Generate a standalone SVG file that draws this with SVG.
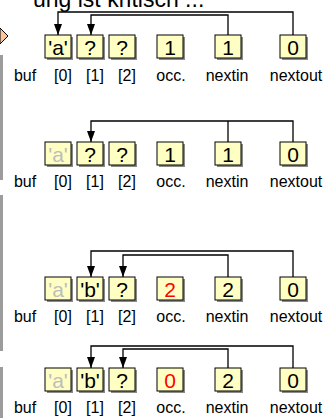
<svg xmlns="http://www.w3.org/2000/svg" width="328" height="418" viewBox="0 0 328 418">
<style>
.bg{fill:#ffffff}
.sh{fill:#8a8a8a}
.bx{fill:#ffffc4;stroke:#000;stroke-width:1}
.fd .bx{stroke:#c4c4c4}
.fd .sh{fill:#d6d6d6}
.v{font-family:"Liberation Sans",Arial,sans-serif;font-size:21px;text-anchor:middle;fill:#000}
.fd .v{fill:#bdbdbd}
.red{fill:#ff0000}
.lb{font-family:"Liberation Sans",Arial,sans-serif;font-size:16px;text-anchor:middle;fill:#000}
.t{font-family:"Liberation Sans",Arial,sans-serif;font-size:23px;fill:#000}
.c{fill:none;stroke:#000;stroke-width:1.3;marker-end:url(#ah)}
.cn{fill:none;stroke:#000;stroke-width:1.3}
.bar{fill:#9c9c9c}
</style>
<defs>
<marker id="ah" viewBox="0 0 11 8" refX="11" refY="4" markerWidth="11" markerHeight="8" markerUnits="userSpaceOnUse" orient="auto">
<path d="M0,0 L11,4 L0,8 z" fill="#000"/>
</marker>
<g id="box">
<rect class="sh" x="2" y="2" width="26" height="23"/>
<rect class="bx" x="0" y="0" width="26" height="23"/>
</g>
</defs>
<rect class="bg" x="0" y="0" width="328" height="418"/>
<text class="t" x="33" y="7">ung ist kritisch ...</text>
<g id="pointer">
<path d="M0,28 L8,36 L0,44 Z" fill="#fbc79a" stroke="#000" stroke-width="1"/>
</g>
<g id="sidebars">
<rect class="bar" x="0" y="55" width="3" height="125"/>
<rect class="bar" x="0" y="195" width="3" height="156"/>
<rect class="bar" x="0" y="367" width="3" height="51"/>
</g>
<g id="connectors">
<path class="c" d="M293,35 V12 H58 V35"/>
<path class="c" d="M228,35 V15 H91 V35"/>
<path class="c" d="M293,142 V121 H91 V142"/>
<path class="cn" d="M228,142 V121"/>
<path class="c" d="M293,277 V251 H91 V277"/>
<path class="c" d="M228,277 V255 H123 V277"/>
<path class="c" d="M293,368 V346 H91 V368"/>
<path class="c" d="M228,368 V349 H123 V368"/>
</g>
<!-- Panel 1 -->
<g id="p1">
<g id="p1-b0"><use href="#box" x="45" y="35"/><text class="v" x="58" y="55">'a'</text></g>
<g id="p1-b1"><use href="#box" x="77" y="35"/><text class="v" x="90" y="55">?</text></g>
<g id="p1-b2"><use href="#box" x="109" y="35"/><text class="v" x="122" y="55">?</text></g>
<g id="p1-occ"><use href="#box" x="157" y="35"/><text class="v" x="170" y="55">1</text></g>
<g id="p1-nextin"><use href="#box" x="215" y="35"/><text class="v" x="228" y="55">1</text></g>
<g id="p1-nextout"><use href="#box" x="280" y="35"/><text class="v" x="293" y="55">0</text></g>
<g id="p1-labels">
<text class="lb" x="25" y="81">buf</text><text class="lb" x="63" y="81">[0]</text><text class="lb" x="95" y="81">[1]</text><text class="lb" x="127" y="81">[2]</text><text class="lb" x="171" y="81">occ.</text><text class="lb" x="227" y="81">nextin</text><text class="lb" x="296" y="81">nextout</text>
</g>
</g>
<!-- Panel 2 -->
<g id="p2">
<g id="p2-b0" class="fd"><use href="#box" x="45" y="142"/><text class="v" x="58" y="162">'a'</text></g>
<g id="p2-b1"><use href="#box" x="77" y="142"/><text class="v" x="90" y="162">?</text></g>
<g id="p2-b2"><use href="#box" x="109" y="142"/><text class="v" x="122" y="162">?</text></g>
<g id="p2-occ"><use href="#box" x="157" y="142"/><text class="v" x="170" y="162">1</text></g>
<g id="p2-nextin"><use href="#box" x="215" y="142"/><text class="v" x="228" y="162">1</text></g>
<g id="p2-nextout"><use href="#box" x="280" y="142"/><text class="v" x="293" y="162">0</text></g>
<g id="p2-labels">
<text class="lb" x="25" y="187">buf</text><text class="lb" x="63" y="187">[0]</text><text class="lb" x="95" y="187">[1]</text><text class="lb" x="127" y="187">[2]</text><text class="lb" x="171" y="187">occ.</text><text class="lb" x="227" y="187">nextin</text><text class="lb" x="296" y="187">nextout</text>
</g>
</g>
<!-- Panel 3 -->
<g id="p3">
<g id="p3-b0" class="fd"><use href="#box" x="45" y="277"/><text class="v" x="58" y="297">'a'</text></g>
<g id="p3-b1"><use href="#box" x="77" y="277"/><text class="v" x="90" y="297">'b'</text></g>
<g id="p3-b2"><use href="#box" x="109" y="277"/><text class="v" x="122" y="297">?</text></g>
<g id="p3-occ"><use href="#box" x="157" y="277"/><text class="v red" x="170" y="297">2</text></g>
<g id="p3-nextin"><use href="#box" x="215" y="277"/><text class="v" x="228" y="297">2</text></g>
<g id="p3-nextout"><use href="#box" x="280" y="277"/><text class="v" x="293" y="297">0</text></g>
<g id="p3-labels">
<text class="lb" x="25" y="322">buf</text><text class="lb" x="63" y="322">[0]</text><text class="lb" x="95" y="322">[1]</text><text class="lb" x="127" y="322">[2]</text><text class="lb" x="171" y="322">occ.</text><text class="lb" x="227" y="322">nextin</text><text class="lb" x="296" y="322">nextout</text>
</g>
</g>
<!-- Panel 4 -->
<g id="p4">
<g id="p4-b0" class="fd"><use href="#box" x="45" y="368"/><text class="v" x="58" y="388">'a'</text></g>
<g id="p4-b1"><use href="#box" x="77" y="368"/><text class="v" x="90" y="388">'b'</text></g>
<g id="p4-b2"><use href="#box" x="109" y="368"/><text class="v" x="122" y="388">?</text></g>
<g id="p4-occ"><use href="#box" x="157" y="368"/><text class="v red" x="170" y="388">0</text></g>
<g id="p4-nextin"><use href="#box" x="215" y="368"/><text class="v" x="228" y="388">2</text></g>
<g id="p4-nextout"><use href="#box" x="280" y="368"/><text class="v" x="293" y="388">0</text></g>
<g id="p4-labels">
<text class="lb" x="25" y="413">buf</text><text class="lb" x="63" y="413">[0]</text><text class="lb" x="95" y="413">[1]</text><text class="lb" x="127" y="413">[2]</text><text class="lb" x="171" y="413">occ.</text><text class="lb" x="227" y="413">nextin</text><text class="lb" x="296" y="413">nextout</text>
</g>
</g>
</svg>
